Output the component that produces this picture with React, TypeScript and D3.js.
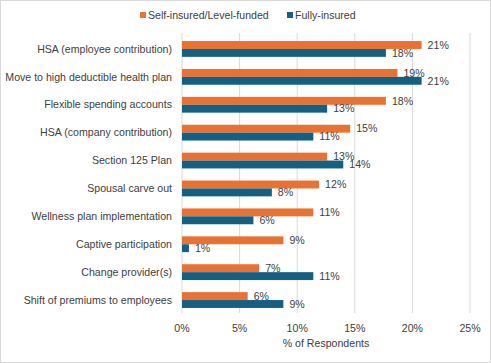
import { scaleBand, scaleLinear } from "d3";
import { FC } from "react";

// chart values
const categories = [
  "HSA (employee contribution)",
  "Move to high deductible health plan",
  "Flexible spending accounts",
  "HSA (company contribution)",
  "Section 125 Plan",
  "Spousal carve out",
  "Wellness plan implementation",
  "Captive participation",
  "Change provider(s)",
  "Shift of premiums to employees",
];
const seriesNames = ["Self-insured/Level-funded", "Fully-insured"];
const selfInsured = [20.8, 18.7, 17.7, 14.6, 12.6, 11.9, 11.4, 8.8, 6.7, 5.7];
const fullyInsured = [17.7, 20.8, 12.6, 11.4, 14.0, 7.8, 6.2, 0.6, 11.4, 8.8];
const xTicks = [0, 5, 10, 15, 20, 25];
const colors = ["#E97132", "#156082"];

const W = 491;
const H = 363;
const FONT = "'Liberation Sans', Arial, sans-serif";
const FS = 10.6;

const App: FC = () => {
  const x = scaleLinear().domain([0, 25]).range([182, 470]);
  const y = scaleBand().domain(categories).range([35, 314]);
  const inner = scaleBand().domain(seriesNames).range([0, 15.8]);
  const series = [selfInsured, fullyInsured];

  return (
    <div style={{ position: "fixed", left: 0, top: 0 }}>
      <svg width={W} height={H} style={{ display: "block", background: "#fff" }}>
        <rect x={0.5} y={0.5} width={W - 1} height={H - 1} fill="#fff" stroke="#d9d9d9" />

        {/* legend */}
        {seriesNames.map((name, i) => {
          const lx = i === 0 ? 140 : 287;
          return (
            <g key={name}>
              <rect x={lx} y={12} width={6} height={6} fill={colors[i]} />
              <text x={lx + 8} y={15} dy="0.35em" fontFamily={FONT} fontSize={FS} fill="#404040">
                {name}
              </text>
            </g>
          );
        })}

        {/* gridlines */}
        {xTicks.map((t) => (
          <line key={t} x1={x(t)} x2={x(t)} y1={33} y2={313} stroke="#d9d9d9" strokeWidth={1} />
        ))}

        {/* bars */}
        {categories.map((c, ci) => {
          const top = y(c)! + y.bandwidth() / 2 - 7.9;
          return (
            <g key={c}>
              <text x={172} y={y(c)! + y.bandwidth() / 2} dy="0.35em" textAnchor="end" fontFamily={FONT} fontSize={FS} fill="#404040">
                {c}
              </text>
              {seriesNames.map((s, si) => {
                const v = series[si][ci];
                const by = top + inner(s)!;
                return (
                  <g key={s}>
                    <rect x={x(0)} y={by} width={x(v) - x(0)} height={inner.bandwidth()} fill={colors[si]} />
                    <text x={x(v) + 6} y={by + inner.bandwidth() / 2} dy="0.35em" fontFamily={FONT} fontSize={FS} fill="#404040">
                      {Math.round(v)}%
                    </text>
                  </g>
                );
              })}
            </g>
          );
        })}

        {/* x axis labels */}
        {xTicks.map((t) => (
          <text key={t} x={x(t)} y={328} dy="0.35em" textAnchor="middle" fontFamily={FONT} fontSize={FS} fill="#404040">
            {t}%
          </text>
        ))}
        <text x={(x(0) + x(25)) / 2} y={343} dy="0.35em" textAnchor="middle" fontFamily={FONT} fontSize={FS} fill="#404040">
          % of Respondents
        </text>
      </svg>
    </div>
  );
};

export default App;
